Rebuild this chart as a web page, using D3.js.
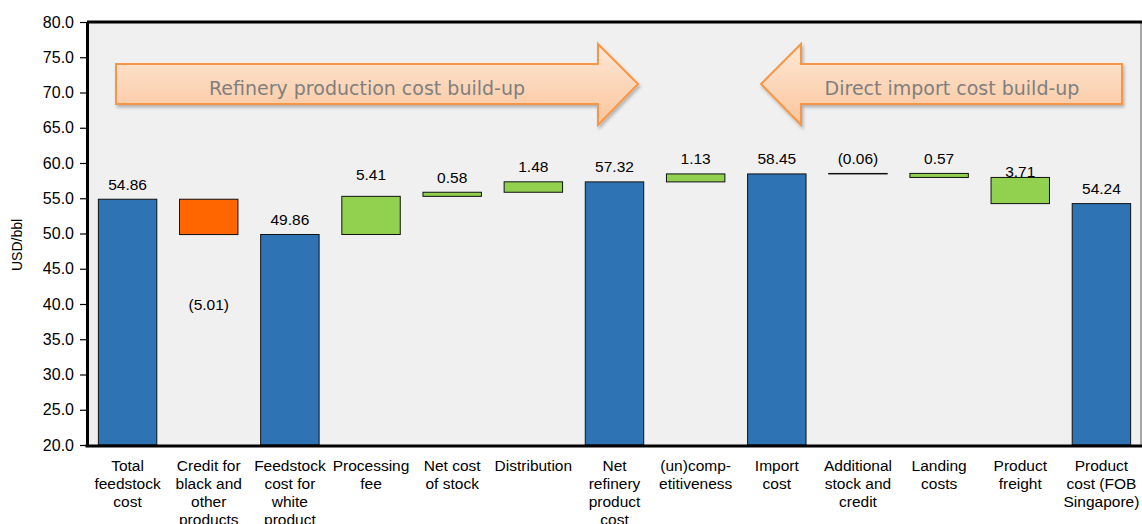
<!DOCTYPE html>
<html>
<head>
<meta charset="utf-8">
<script src="https://cdn.jsdelivr.net/npm/d3@7"></script>
<style>
  body { margin: 0; background: #fff; }
  text { font-family: Arial, "Liberation Sans", sans-serif; }
</style>
</head>
<body>
<div id="chart"></div>
<script>
// Data
const categories = [
  'Total\nfeedstock\ncost',
  'Credit for\nblack and\nother\nproducts',
  'Feedstock\ncost for\nwhite\nproduct',
  'Processing\nfee',
  'Net cost\nof stock',
  'Distribution',
  'Net\nrefinery\nproduct\ncost',
  '(un)comp-\netitiveness',
  'Import\ncost',
  'Additional\nstock and\ncredit',
  'Landing\ncosts',
  'Product\nfreight',
  'Product\ncost (FOB\nSingapore)'
];
const values = [54.86, -5.01, 49.86, 5.41, 0.58, 1.48, 57.32, 1.13, 58.45, -0.06, 0.57, 3.71, 54.24];
const kinds = ['total', 'delta', 'total', 'delta', 'delta', 'delta', 'total', 'delta', 'total', 'delta', 'delta', 'delta', 'total'];
// refinery build-up runs left to right, direct import build-up runs right to left
const direction = [1, 1, 1, 1, 1, 1, 1, 1, 1, -1, -1, -1, -1];
const yTicks = [20, 25, 30, 35, 40, 45, 50, 55, 60, 65, 70, 75, 80];

const width = 1142, height = 524;
const plot = { left: 87, right: 1142, top: 22, bottom: 445 };

// Build waterfall segments
const bars = categories.map((c, i) => ({ i, label: c, value: values[i], kind: kinds[i] }));
let run = 0;
bars.forEach((d, i) => {
  if (direction[i] !== 1) return;
  if (d.kind === 'total') { d.lo = 0; d.hi = d.value; run = d.value; }
  else { d.lo = Math.min(run, run + d.value); d.hi = Math.max(run, run + d.value); run += d.value; }
});
// import side: start from FOB Singapore and add costs going left,
// the (0.06) credit is taken off the top of the landed cost
run = 0;
for (let i = bars.length - 1; i >= 0; i--) {
  const d = bars[i];
  if (direction[i] !== -1) continue;
  if (d.kind === 'total') { d.lo = 0; d.hi = d.value; run = d.value; continue; }
  const next = d.value < 0 ? run : run + d.value;
  if (d.value < 0) { d.hi = run; d.lo = run + d.value; }
  else { d.lo = run; d.hi = next; }
  run = next;
}

const svg = d3.select('#chart').append('svg')
  .attr('width', width).attr('height', height);

const defs = svg.append('defs');
const grad = defs.append('linearGradient').attr('id', 'arrowFill')
  .attr('x1', 0).attr('y1', 0).attr('x2', 0).attr('y2', 1);
grad.append('stop').attr('offset', '0%').attr('stop-color', '#fee8d6');
grad.append('stop').attr('offset', '100%').attr('stop-color', '#fbc59c');
const shadow = defs.append('filter').attr('id', 'shadow')
  .attr('x', '-10%').attr('y', '-10%').attr('width', '130%').attr('height', '140%');
shadow.append('feDropShadow').attr('dx', 1.5).attr('dy', 2.5).attr('stdDeviation', 1.5)
  .attr('flood-color', '#000').attr('flood-opacity', 0.25);

// Scales
const xScale = d3.scaleBand()
  .domain(d3.range(categories.length))
  .range([plot.left, plot.right])
  .paddingInner(0.28)
  .paddingOuter(0.14);

const yScale = d3.scaleLinear()
  .domain([20, 80])
  .range([plot.bottom, plot.top]);

// Plot area
svg.append('rect')
  .attr('x', plot.left).attr('y', plot.top)
  .attr('width', plot.right - plot.left).attr('height', plot.bottom - plot.top)
  .attr('fill', '#f0f0f0');
svg.append('line')
  .attr('x1', plot.right - 1).attr('x2', plot.right - 1)
  .attr('y1', plot.top).attr('y2', plot.bottom)
  .attr('stroke', '#a6a6a6').attr('stroke-width', 2);
svg.append('line')
  .attr('x1', plot.left).attr('x2', plot.right)
  .attr('y1', plot.top).attr('y2', plot.top)
  .attr('stroke', '#000').attr('stroke-width', 3);

// Annotation arrows
const arrowR = [[116, 64], [598, 64], [598, 44], [638, 84], [598, 125], [598, 104], [116, 104]];
const arrowL = [[1122, 64], [801, 64], [801, 44], [761, 84], [801, 125], [801, 104], [1122, 104]];
[arrowR, arrowL].forEach((pts) => {
  svg.append('path')
    .attr('d', d3.line()(pts) + 'Z')
    .attr('fill', 'url(#arrowFill)')
    .attr('stroke', '#f79646')
    .attr('stroke-width', 2)
    .attr('stroke-linejoin', 'miter')
    .attr('filter', 'url(#shadow)');
});
svg.append('text')
  .attr('x', 367).attr('y', 88).attr('dy', '0.35em')
  .attr('text-anchor', 'middle')
  .style('font-family', '"DejaVu Sans", Verdana, sans-serif')
  .style('font-size', '19px')
  .attr('fill', '#7f7f7f')
  .text('Refinery production cost build-up');
svg.append('text')
  .attr('x', 952).attr('y', 88).attr('dy', '0.35em')
  .attr('text-anchor', 'middle')
  .style('font-family', '"DejaVu Sans", Verdana, sans-serif')
  .style('font-size', '19px')
  .attr('fill', '#7f7f7f')
  .text('Direct import cost build-up');

// Bars
const barColor = (d) => {
  if (d.kind === 'total') return '#2e74b5';
  if (d.value < 0 && Math.abs(d.value) > 0.1) return '#ff6600';
  if (d.value < 0) return '#000';
  return '#92d050';
};

svg.append('g').selectAll('rect')
  .data(bars)
  .join('rect')
    .attr('x', (d) => xScale(d.i))
    .attr('y', (d) => yScale(d.hi))
    .attr('width', xScale.bandwidth())
    .attr('height', (d) => Math.max(0.5, yScale(Math.max(d.lo, 20)) - yScale(d.hi)))
    .attr('fill', barColor)
    .attr('stroke', '#111')
    .attr('stroke-width', 1);

// Value labels
const fmt = (v) => (v < 0 ? `(${Math.abs(v).toFixed(2)})` : v.toFixed(2));
const labelShift = { 3: -7, 11: 9 };
svg.append('g').selectAll('text')
  .data(bars)
  .join('text')
    .attr('x', (d) => xScale(d.i) + xScale.bandwidth() / 2)
    .attr('y', (d) => {
      if (d.i === 1) return yScale(d.lo) + 70;
      return yScale(d.hi) - 15 + (labelShift[d.i] || 0);
    })
    .attr('dy', '0.35em')
    .attr('text-anchor', 'middle')
    .style('font-size', '15.5px')
    .attr('fill', '#000')
    .text((d) => fmt(d.value));

// Axes
const yAxis = svg.append('g')
  .attr('transform', `translate(${plot.left},0)`)
  .call(d3.axisLeft(yScale).tickValues(yTicks).tickFormat(d3.format('.1f')).tickSize(7).tickSizeOuter(0));
yAxis.select('.domain').attr('stroke', '#000').attr('stroke-width', 3);
yAxis.selectAll('.tick line').attr('stroke', '#000').attr('stroke-width', 1.2);
yAxis.selectAll('.tick text')
  .style('font-size', '16px')
  .style('font-family', 'Arial, "Liberation Sans", sans-serif')
  .attr('fill', '#000')
  .attr('x', -13);

svg.append('line')
  .attr('x1', plot.left - 1.5).attr('x2', plot.right)
  .attr('y1', plot.bottom + 1).attr('y2', plot.bottom + 1)
  .attr('stroke', '#000').attr('stroke-width', 3);

// Category labels
const catG = svg.append('g');
bars.forEach((d) => {
  const t = catG.append('text')
    .attr('x', xScale(d.i) + xScale.bandwidth() / 2)
    .attr('y', 470)
    .attr('text-anchor', 'middle')
    .style('font-size', '15.5px')
    .attr('fill', '#000');
  d.label.split('\n').forEach((line, k) => {
    t.append('tspan')
      .attr('x', xScale(d.i) + xScale.bandwidth() / 2)
      .attr('y', 470.5 + k * 18)
      .text(line);
  });
});

// Y axis title
svg.append('text')
  .attr('transform', 'translate(22,245) rotate(-90)')
  .attr('text-anchor', 'middle')
  .style('font-size', '14px')
  .attr('fill', '#000')
  .text('USD/bbl');
</script>
</body>
</html>
